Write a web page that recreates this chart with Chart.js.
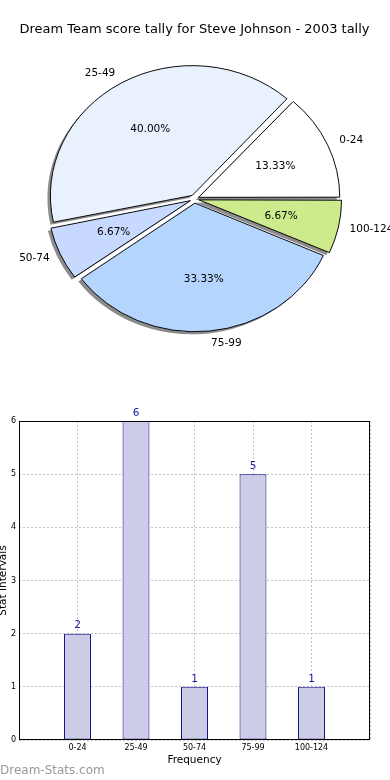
<!DOCTYPE html>
<html>
<head>
<meta charset="utf-8">
<script src="https://cdn.jsdelivr.net/npm/chart.js@4.4.1/dist/chart.umd.min.js"></script>
<style>
  body { margin: 0; background: #fff; }
  #wrap { position: relative; width: 390px; height: 780px; overflow: hidden; }
  #pie { position: absolute; left: 0; top: 0; }
  #bars { position: absolute; left: 0; top: 380px; }
  #mark { position: absolute; left: 0; top: 763px; font: 12px 'DejaVu Sans'; line-height: 14px; color: #999; }
</style>
</head>
<body>
<div id="wrap">
  <canvas id="pie" width="390" height="380"></canvas>
  <canvas id="bars" width="390" height="400"></canvas>
  <div id="mark">Dream-Stats.com</div>
</div>
<script>
const titleText = 'Dream Team score tally for Steve Johnson - 2003 tally'
const intervals = ['0-24', '25-49', '50-74', '75-99', '100-124']
const counts = [2, 6, 1, 5, 1]
const sliceColors = ['#ffffff', '#eaf1fe', '#c7d9ff', '#b4d5fe', '#cdea8c']
const xTitle = 'Frequency'
const yTitle = 'Stat Intervals'
const yMax = 6

Chart.defaults.font.family = 'DejaVu Sans'

// matplotlib goes counterclockwise from 3 o'clock, chart.js clockwise -> reverse
const pieLabels = intervals.slice().reverse()
const pieValues = counts.slice().reverse()
const pieColors = sliceColors.slice().reverse()
const total = counts.reduce((a, b) => a + b, 0)

const squash = 0.915   // the original pie is a bit flat
const explode = 18

const pieDecor = {
    id: 'pieDecor',
    beforeDatasetsDraw(chart){
        const ctx = chart.ctx
        const arcs = chart.getDatasetMeta(0).data
        const cx = arcs[0].x, cy = arcs[0].y
        ctx.save()
        ctx.translate(cx, cy)
        ctx.scale(1, squash)
        ctx.translate(-cx, -cy)
        // grey copies of the slices as the drop shadow
        arcs.forEach(arc => {
            const real = arc.options
            arc.options = Object.assign(Object.create(real), {backgroundColor: 'rgba(0,0,0,0.45)', borderWidth: 0})
            ctx.save()
            ctx.translate(-3, 2.6 / squash)
            arc.draw(ctx)
            ctx.restore()
            arc.options = real
        })
    },
    afterDatasetsDraw(chart){
        const ctx = chart.ctx
        ctx.restore()
        const arcs = chart.getDatasetMeta(0).data
        ctx.save()
        ctx.font = '10.5px "DejaVu Sans"'
        ctx.fillStyle = '#000'
        ctx.textBaseline = 'middle'
        arcs.forEach((arc, i) => {
            const mid = (arc.startAngle + arc.endAngle) / 2
            const dx = Math.cos(mid), dy = Math.sin(mid)
            const shift = explode / 4
            const r = arc.outerRadius
            const at = d => [arc.x + dx * (shift + d), arc.y + dy * (shift + d) * squash]
            let [x, y] = at(1.1 * r)
            ctx.textAlign = dx > 0 ? 'left' : 'right'
            ctx.fillText(pieLabels[i], x, y)
            ;[x, y] = at(0.6 * r)
            ctx.textAlign = 'center'
            ctx.fillText((pieValues[i] / total * 100).toFixed(2) + '%', x, y)
        })
        ctx.restore()
    }
}

new Chart(document.getElementById('pie'), {
    type: 'pie',
    data: {
        labels: pieLabels,
        datasets: [{
            data: pieValues,
            backgroundColor: pieColors,
            borderColor: '#000',
            borderWidth: 1,
            offset: explode,
            hoverOffset: 0,
            clip: false
        }]
    },
    options: {
        responsive: false,
        animation: false,
        devicePixelRatio: 1,
        rotation: 90,
        radius: 140,
        layout: {padding: {left: 0, right: 1, top: 0, bottom: 19.6}},
        plugins: {
            legend: {display: false},
            tooltip: {enabled: false},
            title: {
                display: true,
                text: titleText,
                color: '#000',
                font: {size: 13, weight: 'normal'},
                padding: {top: 22, bottom: 0}
            }
        }
    },
    plugins: [pieDecor]
})

const frame = {
    id: 'frame',
    afterDatasetsDraw(chart){
        const {ctx, chartArea: a} = chart
        ctx.save()
        ctx.strokeStyle = '#000'
        ctx.lineWidth = 1
        ctx.strokeRect(a.left + 0.5, a.top + 0.5, a.right - a.left - 1, a.bottom - a.top - 1)
        ctx.restore()
    }
}

const valueLabels = {
    id: 'valueLabels',
    afterDatasetsDraw(chart){
        const ctx = chart.ctx
        ctx.save()
        ctx.font = '10.5px "DejaVu Sans"'
        ctx.fillStyle = '#1c1ca0'
        ctx.textAlign = 'center'
        ctx.textBaseline = 'middle'
        chart.getDatasetMeta(0).data.forEach((bar, i) => {
            ctx.fillText(counts[i], bar.x, bar.y - 8)
        })
        ctx.restore()
    }
}

new Chart(document.getElementById('bars'), {
    type: 'bar',
    data: {
        datasets: [{
            data: intervals.map((name, i) => ({x: i, y: counts[i]})),
            backgroundColor: '#ccccE6',
            borderColor: '#000080',
            borderWidth: 1,
            borderSkipped: false,
            categoryPercentage: 1,
            barPercentage: 0.46
        }]
    },
    options: {
        responsive: false,
        animation: false,
        devicePixelRatio: 1,
        layout: {padding: {top: 41, right: 20, left: 0, bottom: 0}},
        plugins: {legend: {display: false}, tooltip: {enabled: false}},
        scales: {
            x: {
                type: 'linear',
                offset: false,
                min: -1,
                max: intervals.length,
                afterFit: s => { s.height = 40 },
                ticks: {
                    stepSize: 1, autoSkip: false, maxRotation: 0, padding: 3,
                    color: '#000', font: {size: 8},
                    callback: v => intervals[v] ?? ''
                },
                grid: {color: '#c4c4c4', drawTicks: false, offset: false},
                border: {display: false, dash: [2, 2]},
                title: {display: true, text: xTitle, color: '#000', font: {size: 10.5}, padding: {top: 0, bottom: 13.7}}
            },
            y: {
                min: 0,
                max: yMax,
                afterFit: s => { s.width = 19 },
                ticks: {stepSize: 1, padding: 3, color: '#000', font: {size: 8}},
                grid: {color: '#c4c4c4', drawTicks: false},
                border: {display: false, dash: [2, 2]},
                title: {display: true, text: yTitle, color: '#000', font: {size: 10.5}, padding: {top: -3, bottom: 0}}
            }
        }
    },
    plugins: [frame, valueLabels]
})
</script>
</body>
</html>
